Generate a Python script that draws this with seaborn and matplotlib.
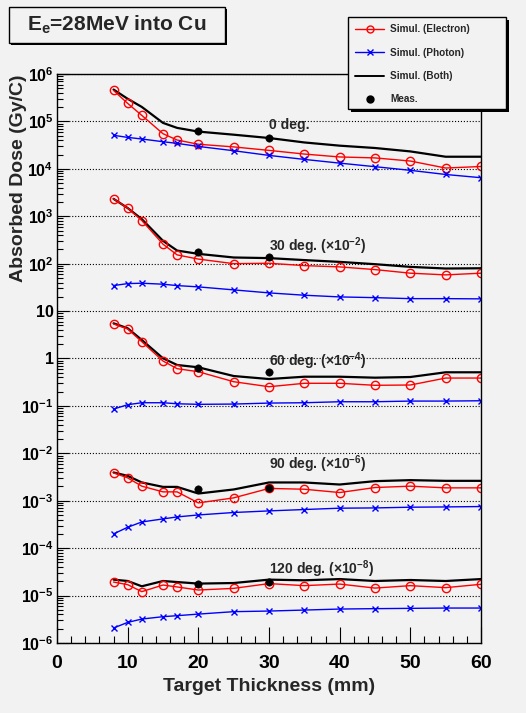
import numpy as np
import pandas as pd
import seaborn as sns
import matplotlib
matplotlib.use('Agg')
import matplotlib.pyplot as plt
from matplotlib.lines import Line2D
from matplotlib.patches import Rectangle
from matplotlib.ticker import FixedLocator, LogLocator, MultipleLocator, NullFormatter

# Data (values as plotted, scale factors already applied)
thickness = [8, 10, 12, 15, 17, 20, 25, 30, 35, 40, 45, 50, 55, 60]
angle_labels = ['0 deg.', '30 deg. (×10$^{-2}$)', '60 deg. (×10$^{-4}$)',
                '90 deg. (×10$^{-6}$)', '120 deg. (×10$^{-8}$)']

elec_0 = [4.5e5, 2.4e5, 1.34e5, 5.5e4, 4.05e4, 3.3e4, 2.9e4, 2.45e4, 2.05e4, 1.78e4, 1.7e4, 1.46e4, 1.04e4, 1.12e4]
phot_0 = [5.1e4, 4.6e4, 4.26e4, 3.73e4, 3.44e4, 2.97e4, 2.41e4, 1.92e4, 1.58e4, 1.32e4, 1.11e4, 9.3e3, 7.6e3, 6.5e3]
both_0 = [4.7e5, 3.0e5, 2.02e5, 9.3e4, 7.3e4, 6.1e4, 5.25e4, 4.47e4, 3.6e4, 3.08e4, 2.75e4, 2.33e4, 1.8e4, 1.8e4]

elec_30 = [2330, 1490, 813, 258, 153, 125, 100, 102, 91, 85.5, 75, 63, 58, 63]
phot_30 = [34.5, 38, 38.7, 36.9, 34.5, 32.4, 28, 24.2, 21.6, 19.9, 19.2, 18.3, 18.3, 18.1]
both_30 = [2330, 1490, 870, 303, 189, 161, 135, 131, 119, 109, 97.5, 85.6, 79, 80]

elec_60 = [5.36, 4.2, 2.26, 0.885, 0.61, 0.526, 0.324, 0.254, 0.3, 0.3, 0.272, 0.276, 0.387, 0.387]
phot_60 = [0.0857, 0.106, 0.1167, 0.1167, 0.111, 0.108, 0.1094, 0.1148, 0.1167, 0.1225, 0.1225, 0.1265, 0.1265, 0.1285]
both_60 = [5.53, 4.34, 2.46, 1.01, 0.73, 0.652, 0.427, 0.369, 0.413, 0.413, 0.394, 0.407, 0.512, 0.512]

elec_90 = [3.87e-3, 3.04e-3, 2.03e-3, 1.54e-3, 1.54e-3, 9.0e-4, 1.15e-3, 1.82e-3, 1.75e-3, 1.49e-3, 1.9e-3, 2.03e-3, 1.87e-3, 1.87e-3]
phot_90 = [2.0e-4, 2.76e-4, 3.57e-4, 4.14e-4, 4.56e-4, 5.02e-4, 5.65e-4, 6.11e-4, 6.53e-4, 6.97e-4, 7.06e-4, 7.31e-4, 7.41e-4, 7.55e-4]
both_90 = [3.95e-3, 3.35e-3, 2.43e-3, 1.96e-3, 1.96e-3, 1.42e-3, 1.73e-3, 2.43e-3, 2.43e-3, 2.2e-3, 2.59e-3, 2.72e-3, 2.63e-3, 2.63e-3]

elec_120 = [1.93e-5, 1.70e-5, 1.21e-5, 1.67e-5, 1.52e-5, 1.31e-5, 1.42e-5, 1.79e-5, 1.62e-5, 1.75e-5, 1.44e-5, 1.62e-5, 1.47e-5, 1.73e-5]
phot_120 = [2.07e-6, 2.72e-6, 3.2e-6, 3.59e-6, 3.77e-6, 4.07e-6, 4.58e-6, 4.72e-6, 4.95e-6, 5.2e-6, 5.3e-6, 5.38e-6, 5.46e-6, 5.46e-6]
both_120 = [2.17e-5, 2.03e-5, 1.57e-5, 2.03e-5, 1.93e-5, 1.79e-5, 1.84e-5, 2.17e-5, 2.1e-5, 2.23e-5, 2.03e-5, 2.13e-5, 2.03e-5, 2.23e-5]

meas_x = [20, 30]
meas_0 = [6.2e4, 4.5e4]
meas_30 = [175, 137]
meas_60 = [0.62, 0.526]
meas_90 = [1.73e-3, 1.82e-3]
meas_120 = [1.79e-5, 1.9e-5]

ytick_vals = [1e-6, 1e-5, 1e-4, 1e-3, 1e-2, 1e-1, 1, 10, 1e2, 1e3, 1e4, 1e5, 1e6]
ytick_labels = ['10$^{-6}$', '10$^{-5}$', '10$^{-4}$', '10$^{-3}$', '10$^{-2}$', '10$^{-1}$',
                '1', '10', '10$^{2}$', '10$^{3}$', '10$^{4}$', '10$^{5}$', '10$^{6}$']

# Build long-form tables
elec = [elec_0, elec_30, elec_60, elec_90, elec_120]
phot = [phot_0, phot_30, phot_60, phot_90, phot_120]
both = [both_0, both_30, both_60, both_90, both_120]
meas = [meas_0, meas_30, meas_60, meas_90, meas_120]

rows = []
for lab, e, p, b in zip(angle_labels, elec, phot, both):
    for kind, vals in (('electron', e), ('photon', p), ('both', b)):
        for x, v in zip(thickness, vals):
            rows.append((x, v, lab, kind))
df = pd.DataFrame(rows, columns=['thickness', 'dose', 'angle', 'kind'])

mrows = []
for lab, m in zip(angle_labels, meas):
    for x, v in zip(meas_x, m):
        mrows.append((x, v, lab))
df_meas = pd.DataFrame(mrows, columns=['thickness', 'dose', 'angle'])

# Style
sns.set_theme(style='ticks')
bg = '#f2f2f2'
plt.rcParams['font.family'] = ['Liberation Sans', 'DejaVu Sans']
plt.rcParams['font.weight'] = 'bold'
plt.rcParams['mathtext.fontset'] = 'custom'
plt.rcParams['mathtext.default'] = 'bf'
plt.rcParams['mathtext.bf'] = 'Liberation Sans:bold'
plt.rcParams['mathtext.rm'] = 'Liberation Sans:bold'

fig = plt.figure(figsize=(5.26, 7.13), dpi=100, facecolor=bg)
ax = fig.add_axes([57 / 526, 1 - 643 / 713, 424 / 526, 569 / 713], facecolor=bg)
ax.set_yscale('log')

sns.lineplot(data=df[df.kind == 'both'], x='thickness', y='dose', units='angle', estimator=None,
             sort=False, color='black', lw=1.6, ax=ax, legend=False)
sns.lineplot(data=df[df.kind == 'electron'], x='thickness', y='dose', units='angle', estimator=None,
             sort=False, color='red', lw=1, marker='o', markersize=6, markerfacecolor='none',
             markeredgecolor='red', markeredgewidth=1, ax=ax, legend=False)
sns.lineplot(data=df[df.kind == 'photon'], x='thickness', y='dose', units='angle', estimator=None,
             sort=False, color='blue', lw=1, marker='x', markersize=5, markeredgecolor='blue',
             markeredgewidth=1, ax=ax, legend=False)
sns.scatterplot(data=df_meas, x='thickness', y='dose', color='black', s=28, edgecolor='black',
                ax=ax, legend=False, zorder=5)

# angle labels
label_y = [8.5e4, 238, 0.885, 5.9e-3, 3.6e-5]
for lab, y in zip(angle_labels, label_y):
    ax.text(30, y, lab, fontsize=10, fontweight='bold', ha='left', va='center')

ax.set_xlim(0, 60)
ax.set_ylim(1e-6, 1e6)
ax.xaxis.set_major_locator(MultipleLocator(10))
ax.xaxis.set_minor_locator(MultipleLocator(2))
ax.yaxis.set_major_locator(FixedLocator(ytick_vals))
ax.set_yticklabels(ytick_labels)
ax.yaxis.set_minor_locator(LogLocator(base=10, subs=np.arange(2, 10), numticks=100))
ax.yaxis.set_minor_formatter(NullFormatter())
ax.tick_params(axis='both', which='both', direction='in', top=False, right=False, colors='black')
ax.tick_params(axis='x', which='major', length=11.5, width=0.8, pad=9, labelsize=14)
ax.tick_params(axis='x', which='minor', length=5, width=0.8)
ax.tick_params(axis='y', which='major', length=8.6, width=0.8, pad=2.5, labelsize=11.5)
ax.tick_params(axis='y', which='minor', length=4.3, width=0.8)
for lbl in ax.get_xticklabels() + ax.get_yticklabels():
    lbl.set_fontweight('bold')
ax.yaxis.grid(True, which='major', linestyle=':', color='black', lw=0.8)
ax.xaxis.grid(False)
for s in ax.spines.values():
    s.set_color('black')
    s.set_linewidth(1)

ax.set_xlabel('Target Thickness (mm)', fontsize=14, fontweight='bold', labelpad=4)
ax.set_ylabel('Absorbed Dose (Gy/C)', fontsize=14, fontweight='bold', loc='top')
ax.yaxis.set_label_coords(-0.071, 1.0)

# Title box with shadow
tx0, ty0, tw, th = 9 / 526, 1 - 43 / 713, 216 / 526, 36 / 713
fig.add_artist(Rectangle((tx0 + 2 / 526, ty0 - 2 / 713), tw, th, transform=fig.transFigure,
                         facecolor='black', edgecolor='black', lw=0))
fig.add_artist(Rectangle((tx0, ty0), tw, th, transform=fig.transFigure,
                         facecolor=bg, edgecolor='black', lw=1))
fig.text(tx0 + tw / 2, ty0 + th / 2, 'E$_{e}$=28MeV into Cu', fontsize=15, fontweight='bold',
         ha='center', va='center')

# Legend box with shadow
lx0, ly0, lw_, lh = 348 / 526, 1 - 109 / 713, 158 / 526, 92 / 713
fig.add_artist(Rectangle((lx0 + 3 / 526, ly0 - 3 / 713), lw_, lh, transform=fig.transFigure,
                         facecolor='black', edgecolor='black', lw=0, zorder=10))
fig.add_artist(Rectangle((lx0, ly0), lw_, lh, transform=fig.transFigure,
                         facecolor=bg, edgecolor='black', lw=1, zorder=11))
handles = [
    Line2D([], [], color='red', lw=1, marker='o', markersize=5, markerfacecolor='none'),
    Line2D([], [], color='blue', lw=1, marker='x', markersize=5),
    Line2D([], [], color='black', lw=1.4),
    Line2D([], [], color='black', lw=0, marker='o', markersize=5),
]
labels = ['Simul. (Electron)', 'Simul. (Photon)', 'Simul. (Both)', 'Meas.']
leg = fig.legend(handles, labels, loc='upper left', bbox_to_anchor=(lx0, ly0 + lh),
                 frameon=False, handlelength=2.9, labelspacing=1.35,
                 borderpad=0.7, borderaxespad=0, handletextpad=0.6,
                 prop={'weight': 'bold', 'size': 7.2})
leg.set_zorder(12)

fig.savefig('out.png', dpi=100, facecolor=bg)
